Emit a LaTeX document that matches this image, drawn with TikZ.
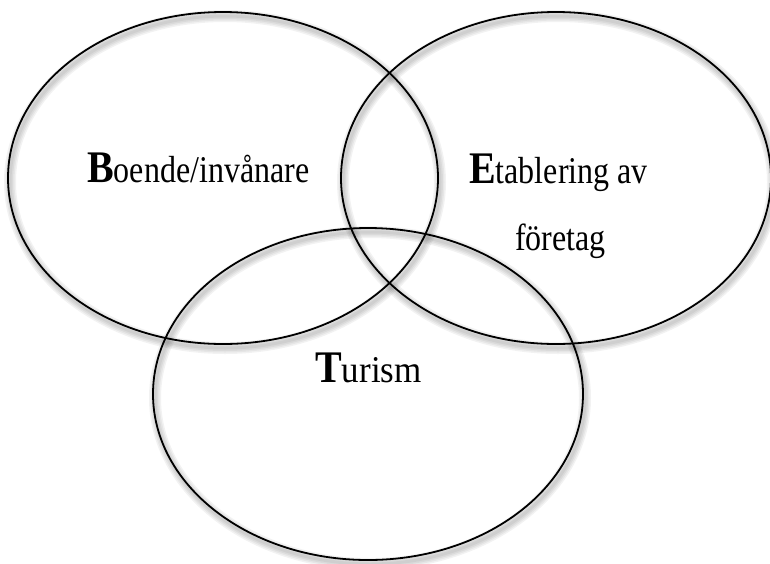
\documentclass[tikz,border=0pt]{standalone}
\usepackage{fontspec}
\usepackage{graphicx}
\setmainfont{Liberation Serif}
\usetikzlibrary{shapes.geometric}
\newcommand\initl[1]{\scalebox{1}[1.13]{\fontsize{40}{48}\selectfont\bfseries #1}}
\newcommand\rest[1]{\scalebox{1}[1.18]{#1}}
\begin{document}
\begin{tikzpicture}[x=1pt,y=-1pt,
  venn/.style={draw=black,line width=1.8pt,ellipse,minimum width=430pt,minimum height=332pt,inner sep=0pt},
  vshadow/.style={draw=black,ellipse,minimum width=430pt,minimum height=332pt,inner sep=0pt,draw opacity=0.05},
  lbl/.style={anchor=base west,inner sep=0pt,font=\fontsize{32}{38}\selectfont}]
\useasboundingbox (0,0) rectangle (770,563);
% soft shadows of the ellipses
\foreach \w in {3,6,9,12}{
  \node[vshadow,line width=\w pt] (sb\w) at (225,182) {};
  \node[vshadow,line width=\w pt] (se\w) at (558,182) {};
  \node[vshadow,line width=\w pt] (st\w) at (370,398) {};
}
\node[venn] (b) at (223,178) {};
\node[venn] (e) at (556,178) {};
\node[venn] (t) at (368,394) {};
\node[lbl] (bt) at (87,182) {\initl{B}\rest{oende/invånare}};
\node[lbl] (et) at (469,183) {\initl{E}\rest{tablering av}};
\node[lbl] (ft) at (515,250) {\rest{företag}};
\node[lbl,font=\fontsize{35}{40}\selectfont] (tt) at (315,382) {\initl{T}\scalebox{1}[1.08]{urism}};
\end{tikzpicture}
\end{document}
